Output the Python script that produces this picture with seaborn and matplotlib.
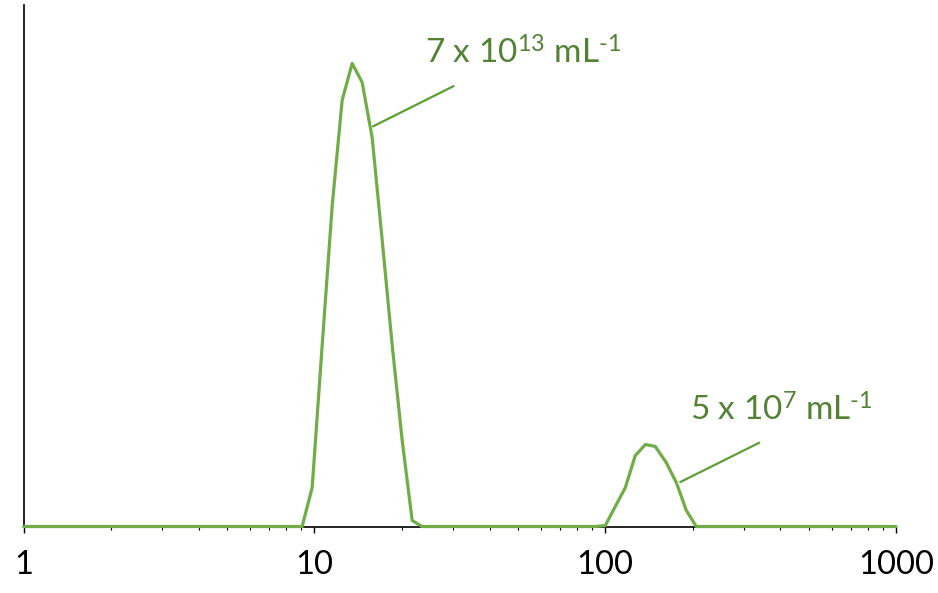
import matplotlib
matplotlib.use("Agg")
import matplotlib.pyplot as plt
import seaborn as sns
import pandas as pd

# Particle size (nm) and relative number (% of main peak)
size_nm = [1.0, 9.07, 9.82, 10.63, 11.51, 12.45, 13.48, 14.59, 15.79, 17.10,
           18.51, 20.03, 21.68, 23.47,
           92.4, 100.0, 108.2, 117.2, 126.8, 137.3, 148.6, 162.1, 175.5, 189.9,
           205.6, 1000.0]
rel_number = [0.0, 0.0, 8.4, 39.1, 69.3, 92.0, 100.0, 95.9, 84.0, 61.8,
              39.1, 18.6, 1.3, 0.0,
              0.0, 0.2, 4.3, 8.4, 15.3, 17.7, 17.3, 13.8, 9.5, 3.5,
              0.0, 0.0]

tick_values = [1, 10, 100, 1000]
tick_labels = ["1", "10", "100", "1000"]

label_main = "7 x 10$^{13}$ mL$^{\u2010 1}$"
label_minor = "5 x 10$^{7}$ mL$^{\u2010 1}$"

df = pd.DataFrame({"size": size_nm, "number": rel_number})

sns.set_theme(style="white")
plt.rcParams["font.family"] = ["Lato", "DejaVu Sans"]
plt.rcParams["mathtext.fontset"] = "custom"
plt.rcParams["mathtext.rm"] = "Lato"
plt.rcParams["mathtext.it"] = "Lato"
plt.rcParams["mathtext.default"] = "rm"

line_green = "#70AD47"
text_green = "#548235"
leader_green = "#5F9E36"

fig = plt.figure(figsize=(9.38, 5.93), dpi=100)
ax = fig.add_axes([0.0252, 0.1121, 0.9301, 0.8794])

sns.lineplot(data=df, x="size", y="number", ax=ax, color=line_green,
             linewidth=2.3, estimator=None, sort=False, clip_on=False, zorder=5)

ax.set_xscale("log")
ax.set_xlim(1, 1000)
ax.set_ylim(0, 112.6)
ax.set_xlabel("")
ax.set_ylabel("")
ax.set_yticks([])
ax.set_xticks(tick_values)
ax.set_xticklabels(tick_labels)

for side in ["top", "right"]:
    ax.spines[side].set_visible(False)
for side in ["left", "bottom"]:
    ax.spines[side].set_color("black")
    ax.spines[side].set_linewidth(1.2)

ax.tick_params(axis="x", which="major", direction="out", length=4, width=1.0,
               color="black", labelsize=23.5, labelcolor="black", pad=13,
               bottom=True)
ax.tick_params(axis="x", which="minor", direction="out", length=2.5, width=0.8,
               color="black", bottom=True)

ax.annotate("", xy=(15.9, 86.4), xytext=(30.1, 95.1),
            arrowprops=dict(arrowstyle="-", color=leader_green, lw=1.6,
                            shrinkA=0, shrinkB=0))
ax.text(24.0, 100.0, label_main, color=text_green, fontsize=24,
        ha="left", va="baseline")

ax.annotate("", xy=(181.1, 9.6), xytext=(338.7, 18.1),
            arrowprops=dict(arrowstyle="-", color=leader_green, lw=1.6,
                            shrinkA=0, shrinkB=0))
ax.text(196.1, 22.9, label_minor, color=text_green, fontsize=24,
        ha="left", va="baseline")

fig.savefig("out.png", dpi=100)
